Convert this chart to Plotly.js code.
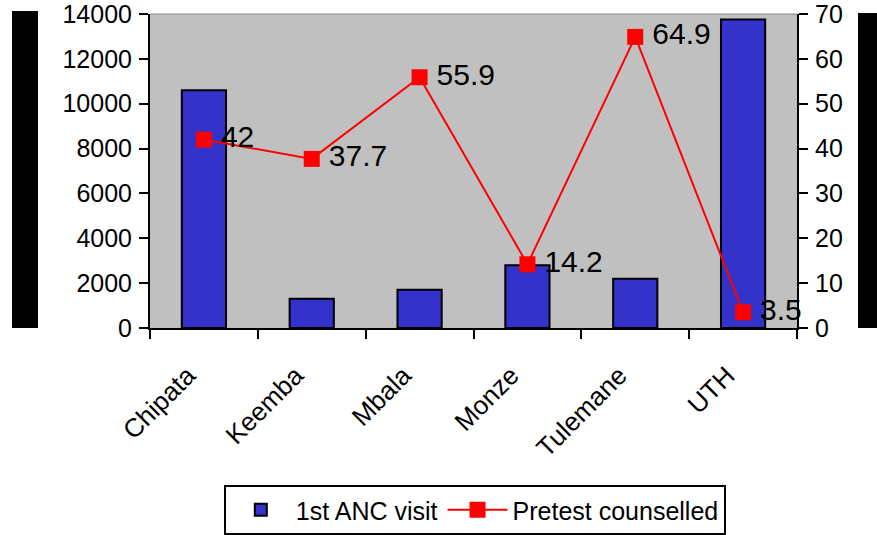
<!DOCTYPE html>
<html><head><meta charset="utf-8">
<script src="https://cdn.plot.ly/plotly-3.0.1.min.js"></script>
<style>body{margin:0;padding:0;background:#fff}#chart{width:877px;height:535px}</style>
</head><body><div id="chart"></div>
<script>
const categories = ["Chipata","Keemba","Mbala","Monze","Tulemane","UTH"];
const ancVisits = [10600, 1300, 1700, 2800, 2200, 13750];
const pretest = [42, 37.7, 55.9, 14.2, 64.9, 3.5];
const pretestLabels = ["42","37.7","55.9","14.2","64.9","3.5"];
const leftTicks = [0,2000,4000,6000,8000,10000,12000,14000];
const rightTicks = [0,10,20,30,40,50,60,70];

const font = {family: "Liberation Sans, Arial, sans-serif", color: "#000"};
const W = 647, H = 314;
const traces = [
  {type: "bar", x: categories, y: ancVisits, name: "1st ANC visit",
   marker: {color: "#3333CC", line: {color: "#000", width: 2}}, yaxis: "y"},
  {type: "scatter", mode: "lines+markers+text", x: categories, y: pretest, name: "Pretest counselled",
   yaxis: "y2", line: {color: "#FF0000", width: 2}, marker: {color: "#FF0000", symbol: "square", size: 16},
   text: pretestLabels.map(s => "\u2009" + s), textposition: "middle right",
   textfont: {family: font.family, size: 30, color: "#000"},
   cliponaxis: false}
];
const layout = {
  width: 877, height: 535,
  margin: {l: 150, r: 80, t: 14, b: 207, autoexpand: false},
  paper_bgcolor: "#fff", plot_bgcolor: "#C0C0C0",
  font: {family: font.family, size: 25, color: "#000"},
  bargap: 0.59,
  showlegend: true,
  legend: {orientation: "h", x: 0.502, xanchor: "center", xref: "paper", yref: "container", y: (535-485)/535, yanchor: "top",
           bordercolor: "#000", borderwidth: 2, font: {size: 25}, bgcolor: "#fff",
           traceorder: "normal", itemwidth: 60},
  xaxis: {type: "category", tickangle: -45, ticks: "outside", tickson: "boundaries", ticklen: 9,
          tickwidth: 2, tickcolor: "#000", showline: true, linecolor: "#000", linewidth: 2,
          showgrid: false, tickfont: {size: 26}, ticklabelstandoff: 20, ticklabelshift: -16,
          ticklabeloverflow: "allow"},
  yaxis: {range: [0, 14000], tickvals: leftTicks, ticktext: leftTicks.map(String), ticks: "outside", ticklen: 9,
          tickwidth: 2, tickcolor: "#000", showline: true, linecolor: "#000", linewidth: 2,
          showgrid: false, zeroline: false, tickfont: {size: 25}, ticklabelstandoff: 2,
          ticklabeloverflow: "allow"},
  yaxis2: {range: [0, 70], tickvals: rightTicks, overlaying: "y", side: "right", ticks: "outside", ticklen: 9,
           tickwidth: 2, tickcolor: "#000", showline: true, linecolor: "#000", linewidth: 2,
           showgrid: false, zeroline: false, tickfont: {size: 25}, ticklabelstandoff: 2,
           ticklabeloverflow: "allow"},
  shapes: [
    {type: "rect", xref: "paper", yref: "paper", x0: (12-150)/W, x1: (38-150)/W, y0: 0, y1: (328-11)/H,
     fillcolor: "#000", line: {width: 0}},
    {type: "rect", xref: "paper", yref: "paper", x0: (858-150)/W, x1: (877-150)/W, y0: 0, y1: (328-13)/H,
     fillcolor: "#000", line: {width: 0}},
    {type: "line", xref: "paper", yref: "paper", x0: 0, x1: 1, y0: 1, y1: 1, line: {color: "#888", width: 1}}
  ]
};
Plotly.newPlot("chart", traces, layout, {displayModeBar: false, staticPlot: true});
</script></body></html>
